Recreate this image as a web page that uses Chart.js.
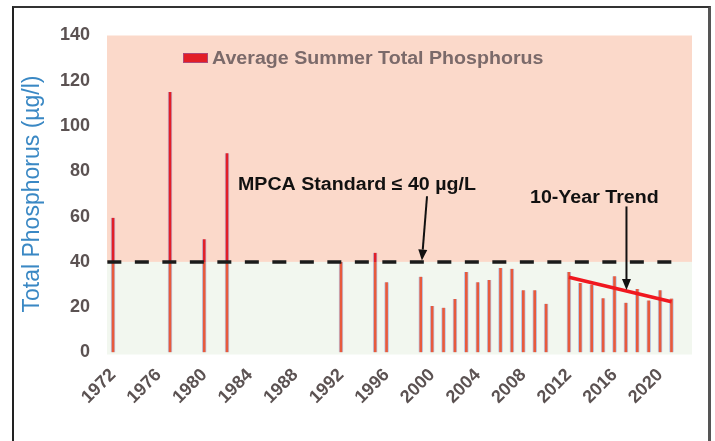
<!DOCTYPE html>
<html><head><meta charset="utf-8">
<script src="https://cdn.jsdelivr.net/npm/chart.js@4"></script>
<style>
html,body{margin:0;padding:0;background:#fff;}
#wrap{position:relative;width:715px;height:441px;overflow:hidden;background:#fff;}
#frame{position:absolute;left:12px;top:6px;width:694px;height:470px;border-left:2px solid #222;border-top:2px solid #333;border-right:3px solid #555;pointer-events:none;}
canvas{position:absolute;left:0;top:0;}
</style></head><body>
<div id="wrap"><canvas id="c" width="715" height="441"></canvas><div id="frame"></div></div>
<script>
// ---- data ----
const years = [1972, 1977, 1980, 1982, 1992, 1995, 1996, 1999, 2000, 2001, 2002, 2003, 2004, 2005, 2006, 2007, 2008, 2009, 2010, 2012, 2013, 2014, 2015, 2016, 2017, 2018, 2019, 2020, 2021];
const phosphorus = [59.5, 115, 50, 88, 40, 44, 31, 33.5, 20.5, 19.8, 23.6, 35.5, 31, 32, 37.3, 37, 27.5, 27.5, 21.5, 35.5, 30.7, 30, 24, 33.7, 22, 28, 23, 27.5, 23.8];
const xTickYears = [1972, 1976, 1980, 1984, 1988, 1992, 1996, 2000, 2004, 2008, 2012, 2016, 2020];
const yTickMin = 0, yTickMax = 140, yTickStep = 20;
const standardValue = 40;
const standardSpan = [1971.5, 2021.3];
const trendYears = [2012, 2021];
const trendValues = [33.2, 22.4];
const standardArrow = { from: [1999.55, 69], to: [1999.1, 40.6] };
const trendArrow = { from: [2017.05, 64.5], to: [2017.05, 27.6] };
const seriesLabel = 'Average Summer Total Phosphorus';
const yTitle = 'Total Phosphorus (µg/l)';
const standardText = 'MPCA Standard ≤ 40 µg/L';
const trendText = '10-Year Trend';

// ---- styling ----
const FONT = '"Liberation Sans", Arial, sans-serif';
const RED = '#e21e27';
const ORANGE = '#e85a3c';
const PINK = '#fbd9ca';
const GREEN = '#f2f7ef';
const TICK = '#5b5252';
const STRETCH = 1.09;

function barFill(ctx) {
  const chart = ctx.chart;
  const { chartArea, scales } = chart;
  if (!chartArea) return RED;
  const y40 = scales.y.getPixelForValue(standardValue);
  const g = chart.ctx.createLinearGradient(0, chartArea.top, 0, chartArea.bottom);
  const t = Math.min(1, Math.max(0, (y40 - chartArea.top) / (chartArea.bottom - chartArea.top)));
  g.addColorStop(0, RED); g.addColorStop(t, RED);
  g.addColorStop(t, ORANGE); g.addColorStop(1, ORANGE);
  return g;
}

function stretchedText(ctx, text, x, y, sx, align) {
  ctx.save();
  ctx.translate(x, y);
  ctx.scale(sx, 1);
  ctx.textAlign = align || 'left';
  ctx.fillText(text, 0, 0);
  ctx.restore();
}

function arrow(ctx, x1, y1, x2, y2) {
  const ang = Math.atan2(y2 - y1, x2 - x1);
  const hl = 11, hw = 4.5;
  const bx = x2 - hl * Math.cos(ang), by = y2 - hl * Math.sin(ang);
  ctx.save();
  ctx.strokeStyle = '#111'; ctx.fillStyle = '#111'; ctx.lineWidth = 2;
  ctx.beginPath(); ctx.moveTo(x1, y1); ctx.lineTo(bx, by); ctx.stroke();
  ctx.beginPath();
  ctx.moveTo(x2, y2);
  ctx.lineTo(bx + hw * Math.sin(ang), by - hw * Math.cos(ang));
  ctx.lineTo(bx - hw * Math.sin(ang), by + hw * Math.cos(ang));
  ctx.closePath(); ctx.fill();
  ctx.restore();
}

const backgroundPlugin = {
  id: 'bands',
  beforeDatasetsDraw(chart) {
    const { ctx, chartArea: a, scales: { y } } = chart;
    const yTop = y.getPixelForValue(yTickMax);
    const y40 = y.getPixelForValue(standardValue);
    const y0 = y.getPixelForValue(yTickMin);
    ctx.save();
    ctx.fillStyle = PINK;
    ctx.fillRect(a.left, yTop, a.right - a.left, y40 - yTop);
    ctx.fillStyle = GREEN;
    ctx.fillRect(a.left, y40, a.right - a.left, y0 - y40 + 2);
    ctx.restore();
  }
};

const notesPlugin = {
  id: 'notes',
  afterDatasetsDraw(chart) {
    const { ctx, scales: { x, y } } = chart;
    const px = p => [x.getPixelForValue(p[0]), y.getPixelForValue(p[1])];
    let f = px(standardArrow.from), t = px(standardArrow.to);
    arrow(ctx, f[0], f[1], t[0], t[1]);
    f = px(trendArrow.from); t = px(trendArrow.to);
    arrow(ctx, f[0], f[1], t[0], t[1]);
    ctx.save();
    ctx.fillStyle = '#111';
    ctx.font = 'bold 18px ' + FONT;
    ctx.textBaseline = 'alphabetic';
    stretchedText(ctx, standardText, 238, 190, STRETCH);
    stretchedText(ctx, trendText, 530, 203, STRETCH);
    // legend
    ctx.fillStyle = RED;
    ctx.fillRect(183, 53, 25, 10);
    ctx.strokeStyle = 'rgba(130,110,190,0.55)';
    ctx.lineWidth = 1;
    ctx.strokeRect(183.5, 53.5, 24, 9);
    ctx.fillStyle = '#7b6a6a';
    stretchedText(ctx, seriesLabel, 212, 64, STRETCH);
    ctx.restore();
  }
};

const chart = new Chart(document.getElementById('c'), {
  type: 'bar',
  data: {
    datasets: [
      {
        type: 'line',
        label: 'MPCA Standard',
        data: standardSpan.map(v => ({ x: v, y: standardValue })),
        borderColor: '#1b1b1b',
        borderWidth: 3.5,
        borderDash: [14, 13.5],
        pointRadius: 0,
        order: 0
      },
      {
        type: 'line',
        label: '10-Year Trend',
        data: trendYears.map((v, i) => ({ x: v, y: trendValues[i] })),
        borderColor: '#f01820',
        borderWidth: 3.5,
        pointRadius: 0,
        order: 0
      },
      {
        type: 'bar',
        label: seriesLabel,
        data: years.map((v, i) => ({ x: v, y: phosphorus[i] })),
        backgroundColor: barFill,
        borderColor: 'rgba(120,140,215,0.45)',
        borderWidth: { left: 1, right: 1, top: 0, bottom: 0 },
        borderSkipped: false,
        barThickness: 4,
        order: 1
      }
    ]
  },
  options: {
    responsive: false,
    animation: false,
    devicePixelRatio: 1,
    layout: { padding: { left: 0, top: 35.5, right: 23, bottom: 0 } },
    plugins: { legend: { display: false }, tooltip: { enabled: false } },
    scales: {
      x: {
        type: 'linear',
        offset: false,
        min: 1971.47,
        max: 2022.8,
        grid: { display: false, drawTicks: false },
        border: { display: false },
        afterBuildTicks: s => { s.ticks = xTickYears.map(v => ({ value: v })); },
        afterFit: s => { s.height = 88.5; },
        ticks: {
          autoSkip: false,
          minRotation: 45,
          maxRotation: 45,
          padding: 12,
          color: TICK,
          font: { family: FONT, size: 18, weight: 'bold' },
          callback: v => String(v)
        }
      },
      y: {
        min: yTickMin,
        max: yTickMax,
        grid: { display: false, drawTicks: false },
        border: { display: false },
        afterFit: s => { s.width = 107; },
        ticks: {
          stepSize: yTickStep,
          padding: 17,
          color: TICK,
          font: { family: FONT, size: 18, weight: 'bold' }
        },
        title: {
          display: true,
          text: yTitle,
          color: '#3a88c4',
          padding: { top: 19, bottom: 0 },
          font: { family: FONT, size: 23, weight: 'normal' }
        }
      }
    }
  },
  plugins: [backgroundPlugin, notesPlugin]
});
</script>
</body></html>
